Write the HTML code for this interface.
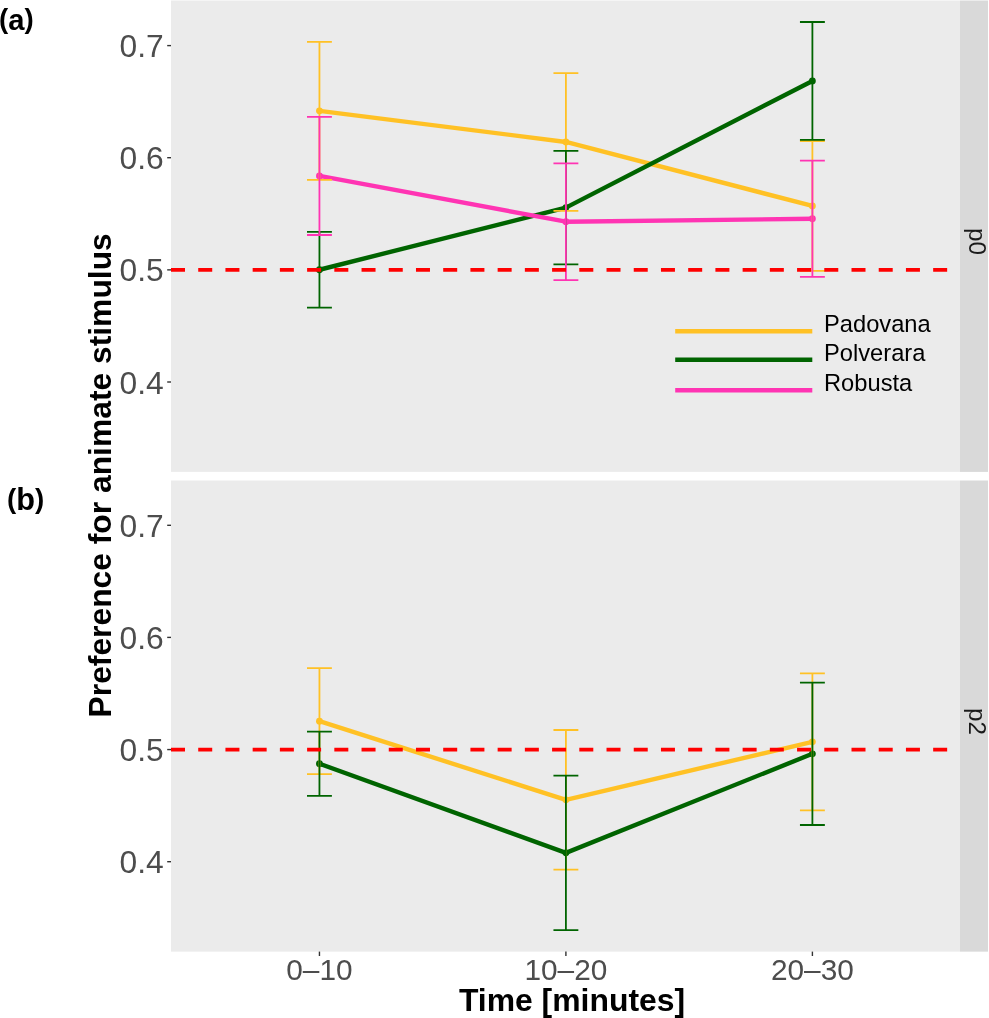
<!DOCTYPE html>
<html><head><meta charset="utf-8"><style>
html,body{margin:0;padding:0;background:#fff;}
svg{display:block;will-change:transform;}
text{font-family:"Liberation Sans",sans-serif;}
.yt{font-size:31.8px;fill:#4D4D4D;text-anchor:end;}
.xt{font-size:29.8px;fill:#4D4D4D;text-anchor:middle;}
.lg{font-size:23.7px;fill:#000;}
.st{font-size:24.3px;fill:#1A1A1A;}
.xtitle{font-size:31.9px;font-weight:bold;fill:#000;text-anchor:middle;}
.ytitle{font-size:31.8px;font-weight:bold;fill:#000;text-anchor:middle;}
.lab{font-size:28px;font-weight:bold;fill:#000;}
</style></head><body>
<svg width="989" height="1018" viewBox="0 0 989 1018">
<rect x="0" y="0" width="989" height="1018" fill="#FFFFFF"/>
<rect x="171" y="0.5" width="789" height="471.4" fill="#EBEBEB"/>
<rect x="960" y="0.5" width="28" height="471.4" fill="#D9D9D9"/>
<rect x="171" y="480.5" width="789" height="471.15" fill="#EBEBEB"/>
<rect x="960" y="480.5" width="28" height="471.15" fill="#D9D9D9"/>
<line x1="167.2" y1="45.6" x2="171" y2="45.6" stroke="#333333" stroke-width="1.4"/>
<text x="163.8" y="57.2" class="yt">0.7</text>
<line x1="167.2" y1="157.7" x2="171" y2="157.7" stroke="#333333" stroke-width="1.4"/>
<text x="163.8" y="169.3" class="yt">0.6</text>
<line x1="167.2" y1="269.87" x2="171" y2="269.87" stroke="#333333" stroke-width="1.4"/>
<text x="163.8" y="281.47" class="yt">0.5</text>
<line x1="167.2" y1="382" x2="171" y2="382" stroke="#333333" stroke-width="1.4"/>
<text x="163.8" y="393.6" class="yt">0.4</text>
<line x1="167.2" y1="525.3" x2="171" y2="525.3" stroke="#333333" stroke-width="1.4"/>
<text x="163.8" y="536.9" class="yt">0.7</text>
<line x1="167.2" y1="637.4" x2="171" y2="637.4" stroke="#333333" stroke-width="1.4"/>
<text x="163.8" y="649" class="yt">0.6</text>
<line x1="167.2" y1="749.57" x2="171" y2="749.57" stroke="#333333" stroke-width="1.4"/>
<text x="163.8" y="761.17" class="yt">0.5</text>
<line x1="167.2" y1="861.7" x2="171" y2="861.7" stroke="#333333" stroke-width="1.4"/>
<text x="163.8" y="873.3" class="yt">0.4</text>
<line x1="319.45" y1="951.6" x2="319.45" y2="956" stroke="#333333" stroke-width="1.4"/>
<line x1="565.9" y1="951.6" x2="565.9" y2="956" stroke="#333333" stroke-width="1.4"/>
<line x1="812.4" y1="951.6" x2="812.4" y2="956" stroke="#333333" stroke-width="1.4"/>
<text x="319.45" y="980.1" class="xt">0–10</text>
<text x="565.9" y="980.1" class="xt">10–20</text>
<text x="812.4" y="980.1" class="xt">20–30</text>
<polyline points="319.45,110.85 565.9,141.95 812.4,205.95" fill="none" stroke="#FFC125" stroke-width="4.4" stroke-linejoin="round"/>
<polyline points="319.45,269.75 565.9,207.6 812.4,80.95" fill="none" stroke="#006400" stroke-width="4.4" stroke-linejoin="round"/>
<polyline points="319.45,175.95 565.9,221.7 812.4,218.75" fill="none" stroke="#FF34B3" stroke-width="4.4" stroke-linejoin="round"/>
<circle cx="319.45" cy="110.85" r="3.4" fill="#FFC125"/>
<circle cx="565.9" cy="141.95" r="3.4" fill="#FFC125"/>
<circle cx="812.4" cy="205.95" r="3.4" fill="#FFC125"/>
<circle cx="319.45" cy="269.75" r="3.4" fill="#006400"/>
<circle cx="565.9" cy="207.6" r="3.4" fill="#006400"/>
<circle cx="812.4" cy="80.95" r="3.4" fill="#006400"/>
<circle cx="319.45" cy="175.95" r="3.4" fill="#FF34B3"/>
<circle cx="565.9" cy="221.7" r="3.4" fill="#FF34B3"/>
<circle cx="812.4" cy="218.75" r="3.4" fill="#FF34B3"/>
<path d="M307 41.8H331.9M307 179.9H331.9M319.45 41.8V179.9M553.45 73.1H578.35M553.45 210.8H578.35M565.9 73.1V210.8M799.95 141H824.85M799.95 270.9H824.85M812.4 141V270.9" fill="none" stroke="#FFC125" stroke-width="1.8"/>
<path d="M307 231.8H331.9M307 307.7H331.9M319.45 231.8V307.7M553.45 150.8H578.35M553.45 264.4H578.35M565.9 150.8V264.4M799.95 22H824.85M799.95 139.9H824.85M812.4 22V139.9" fill="none" stroke="#006400" stroke-width="1.8"/>
<path d="M307 116.9H331.9M307 235H331.9M319.45 116.9V235M553.45 163.3H578.35M553.45 280.1H578.35M565.9 163.3V280.1M799.95 160.6H824.85M799.95 276.9H824.85M812.4 160.6V276.9" fill="none" stroke="#FF34B3" stroke-width="1.8"/>
<line x1="171" y1="269.87" x2="960" y2="269.87" stroke="#FF0000" stroke-width="3.7" stroke-dasharray="14 13.22"/>
<polyline points="319.45,721.15 565.9,799.85 812.4,741.85" fill="none" stroke="#FFC125" stroke-width="4.4" stroke-linejoin="round"/>
<polyline points="319.45,763.75 565.9,852.85 812.4,753.8" fill="none" stroke="#006400" stroke-width="4.4" stroke-linejoin="round"/>
<circle cx="319.45" cy="721.15" r="3.4" fill="#FFC125"/>
<circle cx="565.9" cy="799.85" r="3.4" fill="#FFC125"/>
<circle cx="812.4" cy="741.85" r="3.4" fill="#FFC125"/>
<circle cx="319.45" cy="763.75" r="3.4" fill="#006400"/>
<circle cx="565.9" cy="852.85" r="3.4" fill="#006400"/>
<circle cx="812.4" cy="753.8" r="3.4" fill="#006400"/>
<path d="M307 668.2H331.9M307 774.1H331.9M319.45 668.2V774.1M553.45 730H578.35M553.45 869.7H578.35M565.9 730V869.7M799.95 673.3H824.85M799.95 810.4H824.85M812.4 673.3V810.4" fill="none" stroke="#FFC125" stroke-width="1.8"/>
<path d="M307 731.7H331.9M307 795.8H331.9M319.45 731.7V795.8M553.45 775.6H578.35M553.45 930.1H578.35M565.9 775.6V930.1M799.95 682.6H824.85M799.95 825H824.85M812.4 682.6V825" fill="none" stroke="#006400" stroke-width="1.8"/>
<line x1="171" y1="749.57" x2="960" y2="749.57" stroke="#FF0000" stroke-width="3.7" stroke-dasharray="14 13.22"/>
<line x1="675.2" y1="331.3" x2="812.3" y2="331.3" stroke="#FFC125" stroke-width="4.5"/>
<text x="824" y="331.8" class="lg">Padovana</text>
<line x1="675.2" y1="359.7" x2="812.3" y2="359.7" stroke="#006400" stroke-width="4.5"/>
<text x="824" y="360.7" class="lg">Polverara</text>
<line x1="675.2" y1="390.2" x2="812.3" y2="390.2" stroke="#FF34B3" stroke-width="4.5"/>
<text x="824" y="390.6" class="lg">Robusta</text>
<text class="st" transform="translate(969.3,228) rotate(90)">p0</text>
<text class="st" transform="translate(969.3,708) rotate(90)">p2</text>
<text class="xtitle" x="572" y="1011.3">Time [minutes]</text>
<text class="ytitle" transform="translate(111,475.35) rotate(-90)">Preference for animate stimulus</text>
<text class="lab" transform="translate(-1,27.9) scale(0.99,1)">(<tspan dy="2.1" style="font-size:29.5px">a</tspan><tspan dy="-2.1">)</tspan></text>
<text class="lab" transform="translate(7,507.8) scale(0.99,1)">(<tspan dy="2.1" style="font-size:31px">b</tspan><tspan dy="-2.1">)</tspan></text>
</svg>
</body></html>
